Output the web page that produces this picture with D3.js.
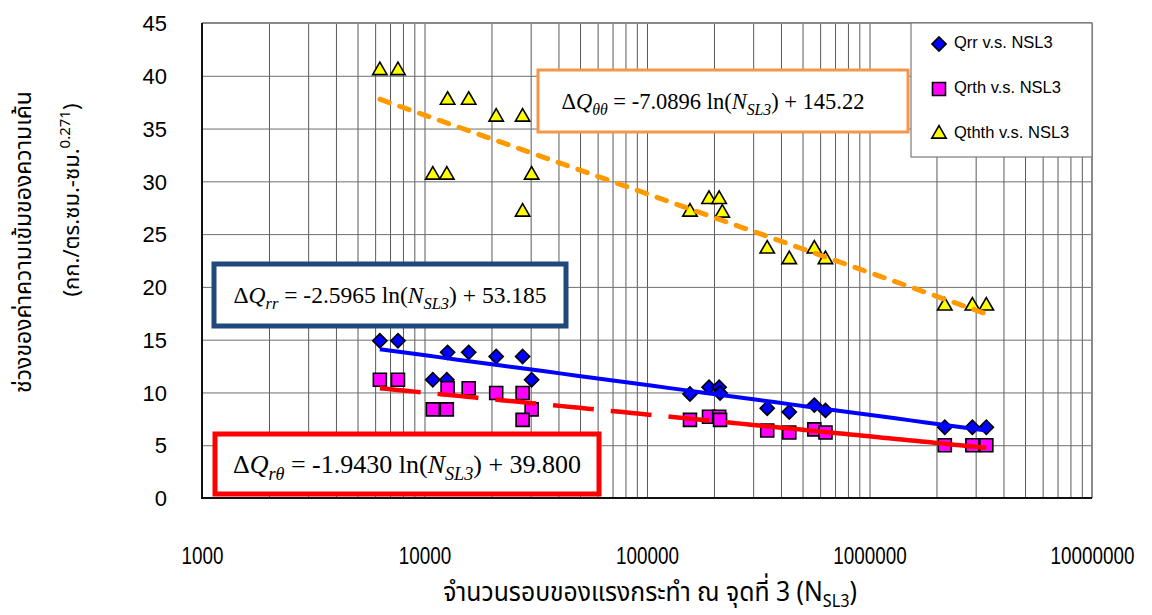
<!DOCTYPE html>
<html>
<head>
<meta charset="utf-8">
<script src="https://cdn.jsdelivr.net/npm/d3@7"></script>
<style>
  html, body { margin: 0; padding: 0; background: #fff; }
  svg { display: block; }
  .tick-lbl { font-family: "Liberation Sans", Arial, sans-serif; fill: #000; }
  .thai { font-family: "Noto Sans Thai", "Noto Sans", "DejaVu Sans", sans-serif; fill: #000; }
  .eq { font-family: "Liberation Serif", "Times New Roman", serif; fill: #000; }
</style>
</head>
<body>
<svg id="chart" width="1152" height="615"></svg>
<script>
// Cycles at load point 3 (N_SL3) and stress-intensity range for each specimen
const qrrN    = [6300, 7600, 12700, 15800, 21000, 27600, 10900, 12600, 30300, 156000, 190000, 211000, 213000, 347000, 436000, 565000, 634000, 2180000, 2900000, 3350000];
const qrrVals = [14.9, 14.9, 13.8, 13.8, 13.4, 13.4, 11.2, 11.2, 11.2, 9.85, 10.5, 10.5, 9.95, 8.5, 8.15, 8.8, 8.3, 6.7, 6.7, 6.7];

const qrthN    = [6300, 7600, 12700, 15800, 21000, 27600, 10900, 12600, 30300, 27600, 156000, 190000, 211000, 213000, 347000, 436000, 565000, 634000, 2180000, 2900000, 3350000];
const qrthVals = [11.2, 11.2, 10.4, 10.4, 9.95, 9.95, 8.4, 8.4, 8.4, 7.4, 7.4, 7.7, 7.7, 7.4, 6.4, 6.2, 6.5, 6.2, 5.0, 5.0, 5.0];

const qththN    = [6300, 7600, 12700, 15800, 21000, 27600, 10900, 12600, 30300, 27600, 156000, 190000, 211000, 218000, 347000, 436000, 565000, 634000, 2180000, 2900000, 3350000];
const qththVals = [40.5, 40.5, 37.7, 37.7, 36.1, 36.1, 30.6, 30.6, 30.6, 27.1, 27.1, 28.3, 28.3, 27.0, 23.6, 22.6, 23.6, 22.6, 18.2, 18.2, 18.2];

const seriesNames = ["Qrr v.s. NSL3", "Qrth v.s. NSL3", "Qthth v.s. NSL3"];
const xTickLabels = [1000, 10000, 100000, 1000000, 10000000];
const yTickValues = [0, 5, 10, 15, 20, 25, 30, 35, 40, 45];

const svg = d3.select("#chart");
const plot = { left: 202, right: 1092, top: 23, bottom: 498 };

const x = d3.scaleLog().domain([1000, 1e7]).range([plot.left, plot.right]);
const y = d3.scaleLinear().domain([0, 45]).range([plot.bottom, plot.top]);

// vertical log grid
const gx = svg.append("g").attr("transform", `translate(0,${plot.bottom})`)
  .call(d3.axisBottom(x).ticks(10).tickSize(-(plot.bottom - plot.top)).tickFormat(""));
gx.select(".domain").remove();
gx.selectAll("line").attr("stroke", "#5a5a5a").attr("stroke-width", 1);

// horizontal grid + y labels
const gy = svg.append("g").attr("transform", `translate(${plot.left},0)`)
  .call(d3.axisLeft(y).tickValues(yTickValues).tickSize(-(plot.right - plot.left)).tickPadding(35).tickFormat(d3.format("d")));
gy.select(".domain").remove();
gy.selectAll("line").attr("stroke", "#6e6e6e").attr("stroke-width", 1);
gy.selectAll("text").attr("class", "tick-lbl").attr("font-size", 22).attr("dy", "0.35em");

// x decade labels
const gxl = svg.append("g").attr("transform", `translate(0,${plot.bottom})`)
  .call(d3.axisBottom(x).tickValues(xTickLabels).tickSize(0).tickPadding(50).tickFormat(d3.format("d")));
gxl.select(".domain").remove();
gxl.selectAll("text").attr("class", "tick-lbl").attr("font-size", 23)
  .attr("transform", "scale(0.82,1)");

// plot frame
svg.append("line").attr("x1", plot.left).attr("x2", plot.right).attr("y1", plot.top).attr("y2", plot.top)
  .attr("stroke", "#8a8a8a").attr("stroke-width", 2);
svg.append("line").attr("x1", plot.right).attr("x2", plot.right).attr("y1", plot.top).attr("y2", plot.bottom)
  .attr("stroke", "#8a8a8a").attr("stroke-width", 2);
svg.append("line").attr("x1", plot.left).attr("x2", plot.left).attr("y1", plot.top).attr("y2", plot.bottom + 1)
  .attr("stroke", "#111").attr("stroke-width", 2);
svg.append("line").attr("x1", plot.left).attr("x2", plot.right).attr("y1", plot.bottom).attr("y2", plot.bottom)
  .attr("stroke", "#111").attr("stroke-width", 2);

// markers
const diamond = d3.symbol().type(d3.symbolSquare).size(100);
const square = d3.symbol().type(d3.symbolSquare).size(169);
const triangle = d3.symbol().type(d3.symbolTriangle).size(90);

function drawMarkers(ns, vals, sym, fill, rotate) {
  svg.append("g").selectAll("path").data(ns.map((n, i) => [n, vals[i]])).join("path")
    .attr("d", sym)
    .attr("transform", d => `translate(${x(d[0])},${y(d[1])})${rotate ? " rotate(45)" : ""}`)
    .attr("fill", fill).attr("stroke", "#000").attr("stroke-width", 1.6);
}
drawMarkers(qrrN, qrrVals, diamond, "#0000ff", true);
drawMarkers(qrthN, qrthVals, square, "#ff00ff", false);
drawMarkers(qththN, qththVals, triangle, "#ffff00", false);

// logarithmic trend lines  y = a ln(N) + b, least squares on the data
function logFit(ns, vals) {
  const lx = ns.map(Math.log);
  const mx = d3.mean(lx), my = d3.mean(vals);
  let sxy = 0, sxx = 0;
  lx.forEach((v, i) => { sxy += (v - mx) * (vals[i] - my); sxx += (v - mx) * (v - mx); });
  const a = sxy / sxx;
  return n => a * Math.log(n) + (my - a * mx);
}
function trendPts(ns, f, from, to) {
  const lo = from || d3.min(ns), hi = to || d3.max(ns);
  return d3.range(0, 41).map(i => { const n = lo * Math.pow(hi / lo, i / 40); return [x(n), y(f(n))]; });
}
const line = d3.line();

const fRr = logFit(qrrN, qrrVals);
svg.append("path").attr("d", line(trendPts(qrrN, fRr))).attr("fill", "none")
  .attr("stroke", "#0000ff").attr("stroke-width", 4);

const fRth = logFit(qrthN, qrthVals);
const dashEndN = 229000;
svg.append("path").attr("d", line(trendPts(qrthN, fRth, null, dashEndN))).attr("fill", "none")
  .attr("stroke", "#ff0000").attr("stroke-width", 4.5).attr("stroke-dasharray", "41,17");
svg.append("path").attr("d", line(trendPts(qrthN, fRth, dashEndN, null))).attr("fill", "none")
  .attr("stroke", "#ff0000").attr("stroke-width", 4.5);

const fThth = logFit(qththN, qththVals);
svg.append("path").attr("d", line(trendPts(qththN, fThth))).attr("fill", "none")
  .attr("stroke", "#ff9900").attr("stroke-width", 5).attr("stroke-linecap", "round")
  .attr("stroke-dasharray", "10,11");

// legend
const lg = svg.append("g");
lg.append("rect").attr("x", 911).attr("y", 23).attr("width", 181).attr("height", 134)
  .attr("fill", "#fff").attr("stroke", "#7a7a7a").attr("stroke-width", 1.2);
const legendSyms = [[diamond, "#0000ff", true], [square, "#ff00ff", false], [triangle, "#ffff00", false]];
seriesNames.forEach((name, i) => {
  const cy = 44 + i * 45;
  lg.append("path").attr("d", legendSyms[i][0])
    .attr("transform", `translate(939,${cy})${legendSyms[i][2] ? " rotate(45)" : ""}`)
    .attr("fill", legendSyms[i][1]).attr("stroke", "#000").attr("stroke-width", 1.6);
  lg.append("text").attr("class", "tick-lbl").attr("x", 954).attr("y", cy - 2).attr("dy", "0.35em")
    .attr("font-size", 16.5).text(name);
});

// regression equation boxes
function eqBox(bx, by, bw, bh, color, sw, fs, sub, coef, icpt, dx) {
  const g = svg.append("g");
  g.append("rect").attr("x", bx).attr("y", by).attr("width", bw).attr("height", bh)
    .attr("fill", "#fff").attr("stroke", color).attr("stroke-width", sw);
  const t = g.append("text").attr("class", "eq").attr("x", bx + bw / 2 + (dx || 0)).attr("y", by + bh / 2 + fs * 0.36)
    .attr("text-anchor", "middle").attr("font-size", fs);
  t.append("tspan").text("\u0394");
  t.append("tspan").attr("font-style", "italic").text("Q");
  t.append("tspan").attr("font-style", "italic").attr("font-size", fs * 0.7).attr("dy", fs * 0.25).text(sub);
  t.append("tspan").attr("dy", -fs * 0.25).text(` = ${coef} ln(`);
  t.append("tspan").attr("font-style", "italic").text("N");
  t.append("tspan").attr("font-style", "italic").attr("font-size", fs * 0.7).attr("dy", fs * 0.25).text("SL3");
  t.append("tspan").attr("dy", -fs * 0.25).text(`) + ${icpt}`);
}
eqBox(538, 70, 370, 62, "#f79646", 3, 22.5, "\u03b8\u03b8", "-7.0896", "145.22", -10);
eqBox(214, 264, 352, 62, "#1f497d", 5, 23.5, "rr", "-2.5965", "53.185", 0);
eqBox(215, 434, 384, 60, "#ff0000", 5, 26, "r\u03b8", "-1.9430", "39.800", 0);

// axis titles
const xt = svg.append("text").attr("class", "thai").attr("transform", "translate(650,601) scale(0.9,1)")
  .attr("text-anchor", "middle").attr("font-size", 27.5);
xt.append("tspan").text("จำนวนรอบของแรงกระทำ ณ จุดที่ 3 (N");
xt.append("tspan").attr("font-size", 18).attr("dy", 6).text("SL3");
xt.append("tspan").attr("dy", -6).text(")");

svg.append("text").attr("class", "thai").attr("transform", "translate(31,242) rotate(-90)")
  .attr("text-anchor", "middle").attr("font-size", 23).text("ช่วงของค่าความเข้มของความเค้น");
const yt2 = svg.append("text").attr("class", "thai").attr("transform", "translate(79,200) rotate(-90)")
  .attr("text-anchor", "middle").attr("font-size", 22);
yt2.append("tspan").text("(กก./ตร.ซม.-ซม.");
yt2.append("tspan").attr("font-size", 15).attr("dy", -9).text("0.271");
yt2.append("tspan").attr("dy", 9).text(")");
</script>
</body>
</html>
